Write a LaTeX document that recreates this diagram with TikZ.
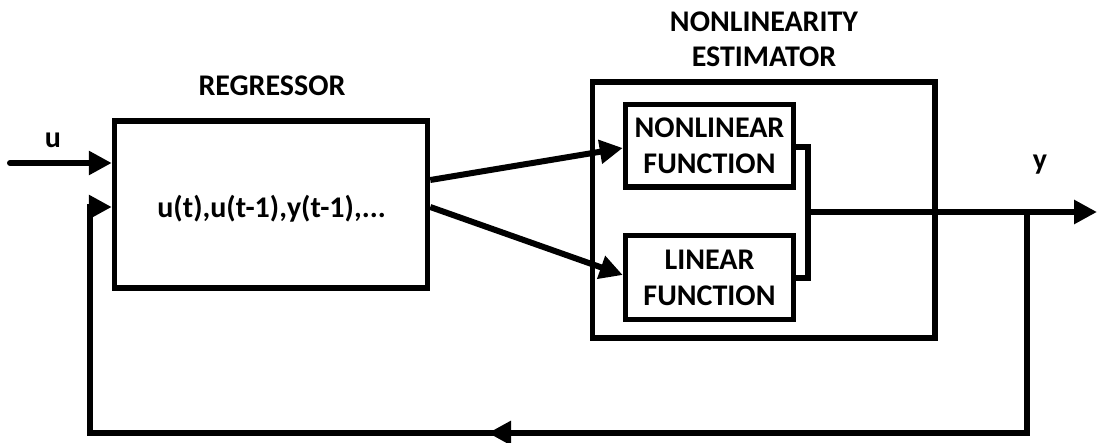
\documentclass[tikz,border=0pt]{standalone}
\usepackage{fontspec}
\setmainfont{Carlito}
\usetikzlibrary{arrows.meta}
\begin{document}
\begin{tikzpicture}[x=1pt,y=-1pt,
  txt/.style={font=\fontsize{30}{36}\selectfont\bfseries, align=center},
  box/.style={draw, line width=5.5pt, inner sep=0pt, txt},
  wire/.style={line width=6pt},
  tip/.style={-{Triangle[length=23pt,width=23pt]}},
  lbl/.style={txt, inner sep=0pt, anchor=base}]
\useasboundingbox (0,0) rectangle (1099,443);

% blocks
\node[box, minimum width=313pt, minimum height=167pt] (reg) at (271,204.5) {};
\node[box, minimum width=342.5pt, minimum height=256pt] (est) at (763.75,210) {};
\node[box, minimum width=168pt, minimum height=82.5pt] (nl) at (709.5,146) {NONLINEAR\\FUNCTION};
\node[box, minimum width=168pt, minimum height=84pt] (lin) at (709.5,277.5) {LINEAR\\FUNCTION};

% labels
\node[lbl] (lreg) at (272,96) {REGRESSOR};
\node[lbl] (lest1) at (764,32) {NONLINEARITY};
\node[lbl] (lest2) at (764,67) {ESTIMATOR};
\node[lbl] (lvec) at (271.5,218) {u(t),u(t-1),y(t-1),...};
\node[lbl] (lu) at (53,148) {u};
\node[lbl] (ly) at (1040,170) {y};

% junction points
\coordinate (uin) at (10,163);
\coordinate (bt) at (807.5,147);
\coordinate (bb) at (807.5,278);
\coordinate (jn) at (807.5,212);
\coordinate (out) at (1097,212);
\coordinate (tap) at (1027,212);
\coordinate (fbR) at (1027,433);
\coordinate (fbL) at (89.5,433);
\coordinate (fbT) at (89.5,207);
\coordinate (mid) at (488,433);

% input
\draw[wire, tip, line cap=round] (uin) -- (uin -| reg.west);

% regressor to the two functions
\draw[wire, tip] ([yshift=24.5pt]reg.east) -- ([yshift=-2pt]nl.west);
\draw[wire, tip] ([yshift=-2.5pt]reg.east) -- ([yshift=2.5pt]lin.west);

% summing bracket and output
\draw[wire] (nl.east |- bt) -- (bt) -- (bb) -- (lin.east |- bb);
\draw[wire, tip] (jn) -- (out);

% feedback loop
\draw[wire, tip] (tap) -- (fbR) -- (fbL) -- (fbT) -- (fbT -| reg.west);
\draw[wire, tip] (fbR) -- (mid);
\end{tikzpicture}
\end{document}
